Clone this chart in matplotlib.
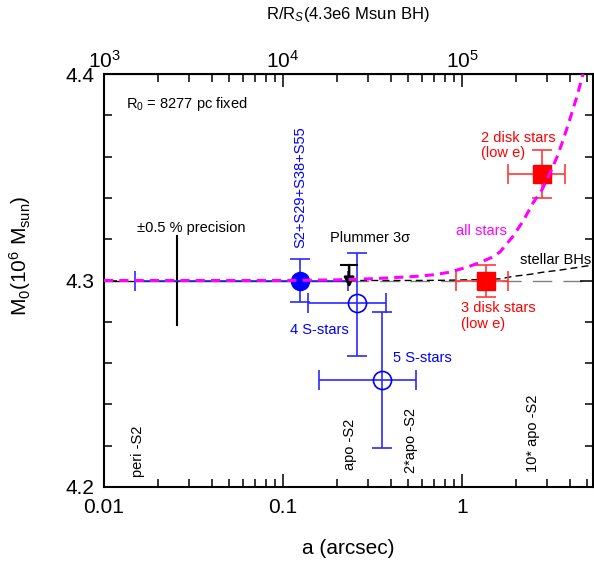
import matplotlib
matplotlib.use("Agg")
import matplotlib.pyplot as plt

plt.rcParams["font.family"] = ["Liberation Sans", "DejaVu Sans"]
plt.rcParams["mathtext.fontset"] = "custom"
plt.rcParams["mathtext.rm"] = "Liberation Sans"
plt.rcParams["mathtext.it"] = "Liberation Sans:italic"

# combined S-star fit (filled circle)
s_comb_a = 0.1245
s_comb_m = 4.300
s_comb_aerr = [[0.1245 - 0.0149], [0.2307 - 0.1245]]
s_comb_merr = 0.0105

# 4 and 5 S-stars (open circles)
s_open_a = [0.259, 0.357]
s_open_m = [4.2891, 4.2518]
s_open_alo = [0.138, 0.159]
s_open_ahi = [0.376, 0.553]
s_open_mlo = [4.2634, 4.2189]
s_open_mhi = [4.3133, 4.2847]

# disk stars (red squares)
disk_a = [1.362, 2.80]
disk_m = [4.300, 4.3516]
disk_alo = [0.925, 1.806]
disk_ahi = [1.806, 3.76]
disk_mlo = [4.292, 4.340]
disk_mhi = [4.3075, 4.3632]

# Plummer 3 sigma upper limit
plummer_a = 0.234
plummer_top = 4.3075
plummer_tip = 4.2965

# +-0.5 % precision bar
prec_a = 0.0256
prec_m = 4.300
prec_err = 0.0215

# model curves
all_a = [0.01, 0.1, 0.2, 0.3, 0.4, 0.55, 0.7, 0.85, 1.07, 1.26, 1.45, 1.63,
         1.93, 2.2, 2.49, 2.8, 3.1, 3.4, 3.67, 4.0, 4.38, 4.74]
all_m = [4.300, 4.300, 4.3003, 4.3008, 4.3013, 4.302, 4.3028, 4.304, 4.3065,
         4.3087, 4.311, 4.3138, 4.3215, 4.329, 4.3375, 4.344, 4.352, 4.360,
         4.368, 4.378, 4.389, 4.400]
bh_a = [0.234, 0.5, 0.78, 1.2, 1.63, 1.93, 2.4, 2.82, 3.5, 4.17, 5.39]
bh_m = [4.300, 4.300, 4.3001, 4.3004, 4.3008, 4.302, 4.303, 4.304, 4.305,
        4.306, 4.3075]

m_ref = 4.300
x_lim = (0.01, 5.39)
y_lim = (4.2, 4.4)
rs_ticks = [1e3, 1e4, 1e5]
rs_labels = ["10$^3$", "10$^4$", "10$^5$"]

blue = "#0000ff"
red = "#ff0000"
magenta = "#ff00ff"

fig = plt.figure(figsize=(5.94, 5.66), dpi=100)
ax = fig.add_axes([104 / 594, 1 - 487 / 566, 489 / 594, 413 / 566])
ax.set_xscale("log")
ax.set_xlim(*x_lim)
ax.set_ylim(*y_lim)

# reference level
ax.plot([x_lim[0], plummer_a], [m_ref, m_ref], color="k", lw=1.0, zorder=1)
ax.plot([plummer_a, x_lim[1]], [m_ref, m_ref], color="#808080", lw=1.0,
        dashes=(14, 8), zorder=1)

# precision bar
ax.plot([prec_a, prec_a], [prec_m - prec_err, prec_m + prec_err], color="k",
        lw=1.5, zorder=2)

# S-stars
ax.errorbar(s_comb_a, s_comb_m, xerr=s_comb_aerr, yerr=s_comb_merr, fmt="o",
            ms=13, color=blue, ecolor="#2a2aff", elinewidth=1.2, capsize=7,
            capthick=1.2, zorder=3)
xerr = [[a - lo for a, lo in zip(s_open_a, s_open_alo)],
        [hi - a for a, hi in zip(s_open_a, s_open_ahi)]]
yerr = [[m - lo for m, lo in zip(s_open_m, s_open_mlo)],
        [hi - m for m, hi in zip(s_open_m, s_open_mhi)]]
ax.errorbar(s_open_a, s_open_m, xerr=xerr, yerr=yerr, fmt="o", ms=13,
            mfc="none", mec=blue, mew=1.2, ecolor="#2a2aff", elinewidth=1.2,
            capsize=7, capthick=1.2, zorder=3)

# disk stars
xerr = [[a - lo for a, lo in zip(disk_a, disk_alo)],
        [hi - a for a, hi in zip(disk_a, disk_ahi)]]
yerr = [[m - lo for m, lo in zip(disk_m, disk_mlo)],
        [hi - m for m, hi in zip(disk_m, disk_mhi)]]
ax.errorbar(disk_a, disk_m, xerr=xerr, yerr=yerr, fmt="s", ms=13,
            color=red, ecolor="#ff3a3a", elinewidth=1.2, capsize=7,
            capthick=1.2, zorder=3)

# Plummer limit
ax.plot([plummer_a], [plummer_top], marker="_", ms=13, mew=1.5, color="k",
        zorder=4)
ax.annotate("", xy=(plummer_a, plummer_tip), xytext=(plummer_a, plummer_top),
            arrowprops=dict(arrowstyle="-|>", color="k", lw=1.8,
                            mutation_scale=15, shrinkA=0, shrinkB=0),
            zorder=4)

# model curves
ax.plot(bh_a, bh_m, color="k", lw=1.0, dashes=(5, 3), zorder=2)
ax.plot(all_a, all_m, color=magenta, lw=2.2, dashes=(3, 2), zorder=5)

# annotations
fs = 10.5
ax.text(0.0133, 4.3855, "R$_0$ = 8277 pc fixed", fontsize=fs, ha="left",
        va="center")
ax.text(0.0306, 4.3254, "\u00b10.5 % precision", fontsize=fs, ha="center",
        va="center")
ax.text(0.1245, 4.3157, "S2+S29+S38+S55", fontsize=fs, color=blue,
        rotation=90, ha="center", va="bottom")
ax.text(0.306, 4.3206, "Plummer 3\u03c3", fontsize=fs, ha="center",
        va="center")
ax.text(0.159, 4.276, "4 S-stars", fontsize=fs, color=blue, ha="center",
        va="center")
ax.text(0.41, 4.2625, "5 S-stars", fontsize=fs, color=blue, ha="left",
        va="center")
ax.text(1.28, 4.324, "all stars", fontsize=fs, color=magenta, ha="center",
        va="center")
ax.text(2.10, 4.310, "stellar BHs", fontsize=fs, ha="left", va="center")
ax.text(1.28, 4.3653, "2 disk stars\n(low e)", fontsize=fs, color=red,
        ha="left", va="center", linespacing=1.1)
ax.text(0.982, 4.2828, "3 disk stars\n(low e)", fontsize=fs, color=red,
        ha="left", va="center", linespacing=1.1)

orbit_a = [0.0155, 0.236, 0.52, 2.49]
orbit_y = [4.2048, 4.2082, 4.2068, 4.2073]
orbit_lbl = ["peri -S2", "apo -S2", "2*apo -S2", "10* apo -S2"]
for a, y, s in zip(orbit_a, orbit_y, orbit_lbl):
    ax.text(a, y, s, fontsize=fs, rotation=90, ha="center", va="bottom")

# axes styling
ax.set_yticks([4.2, 4.3, 4.4])
ax.set_yticklabels(["4.2", "4.3", "4.4"])
ax.set_yticks([4.22, 4.24, 4.26, 4.28, 4.32, 4.34, 4.36, 4.38], minor=True)
ax.set_xticks([0.01, 0.1, 1])
ax.set_xticklabels(["0.01", "0.1", "1"])
ax.tick_params(which="both", direction="in", top=False, right=True,
               width=1.1, labelsize=15)
ax.tick_params(which="major", length=9.5)
ax.tick_params(which="minor", length=5.5)
ax.tick_params(axis="x", pad=8)
ax.tick_params(axis="y", pad=7)
for sp in ax.spines.values():
    sp.set_linewidth(1.5)

ax.set_xlabel("a (arcsec)", fontsize=15)
ax.xaxis.label.set_va("center")
ax.xaxis.set_label_coords(0.5, (487 - 548) / 413)
ax.set_ylabel(r"M$_0$(10$^6$ M$_{\rm sun}$)", fontsize=15)
ax.yaxis.label.set_va("center")
ax.yaxis.set_label_coords((20 - 104) / 489, 0.56)

secax = ax.secondary_xaxis("top", functions=(lambda a: a * 1e5,
                                             lambda r: r / 1e5))
secax.set_xticks(rs_ticks)
secax.set_xticklabels(rs_labels)
secax.tick_params(which="both", direction="in", width=1.1, labelsize=15,
                  pad=1.5)
secax.tick_params(which="major", length=9.5)
secax.tick_params(which="minor", length=5.5)
fig.text(348 / 594, 1 - 15 / 566, "R/R$_S$(4.3e6 Msun BH)", fontsize=12,
         ha="center", va="center")

fig.savefig("out.png", dpi=100)
